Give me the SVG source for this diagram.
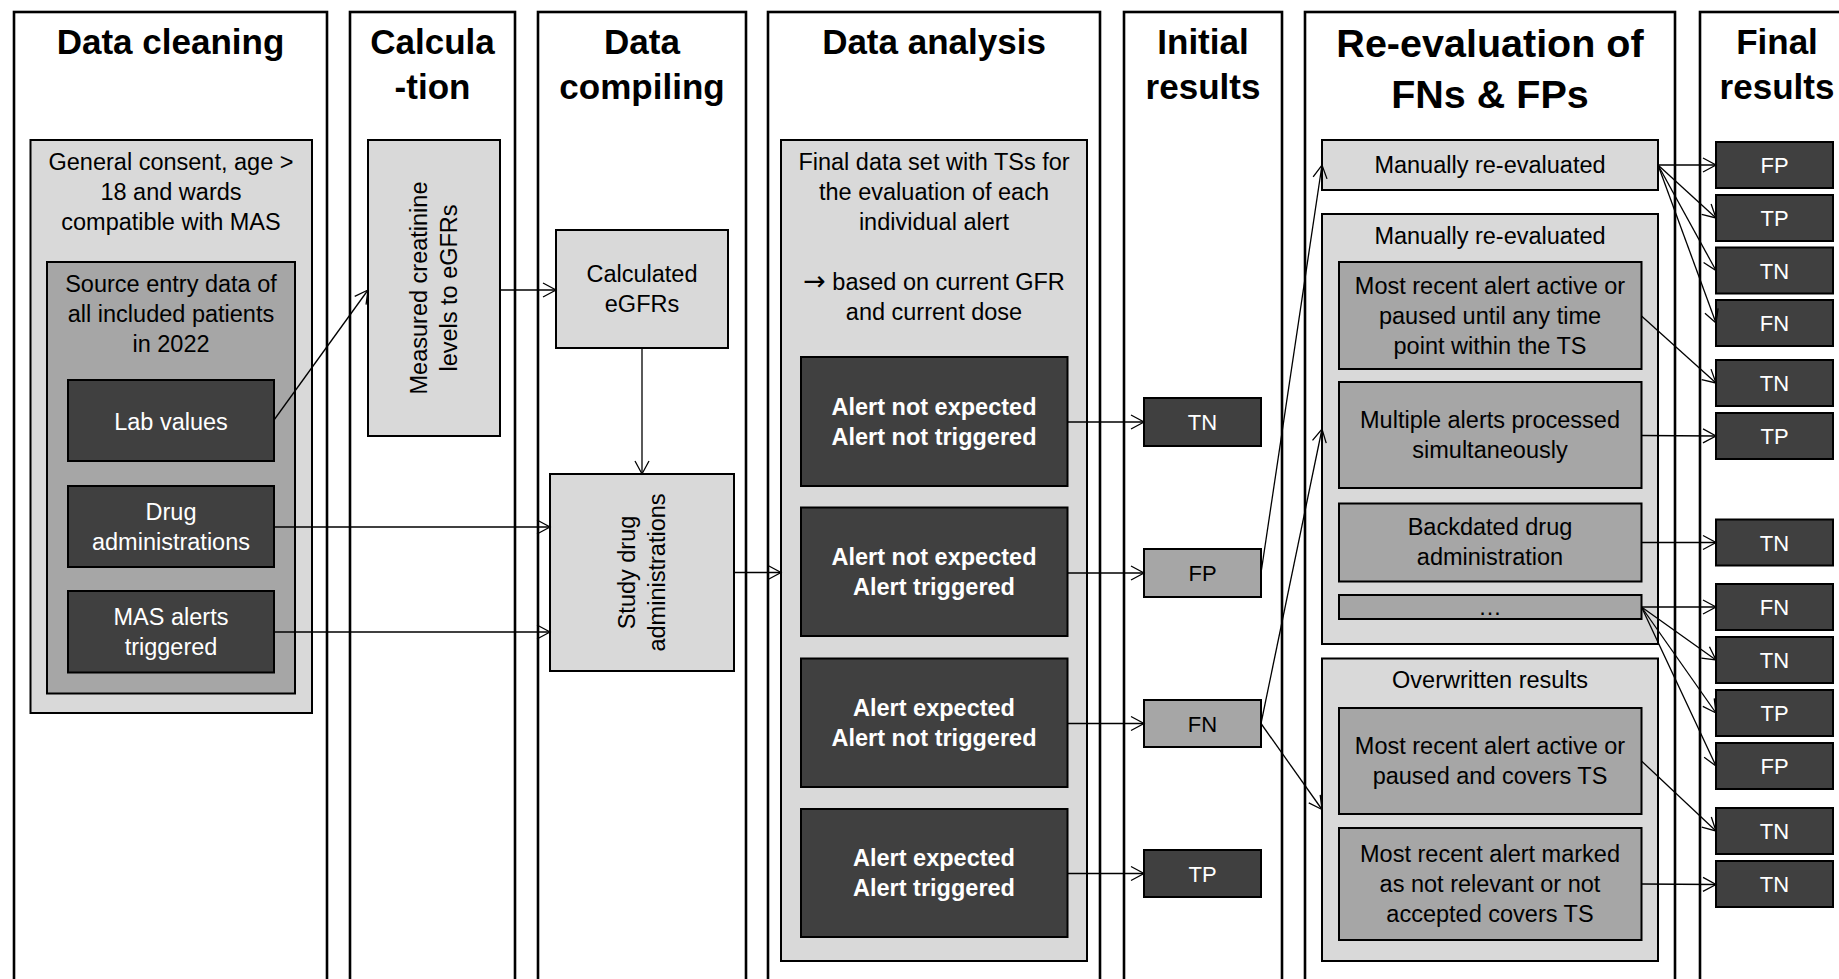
<svg xmlns="http://www.w3.org/2000/svg" width="1839" height="979" viewBox="0 0 1839 979">
<style>
.col{fill:#fff;stroke:#000;stroke-width:2.6}
.title{font-family:"Liberation Sans",Arial,sans-serif;font-weight:bold;font-size:35px;fill:#000;text-anchor:middle}
.big{font-size:39.5px}
.l{fill:#D9D9D9;stroke:#000;stroke-width:2}
.m{fill:#A6A6A6;stroke:#000;stroke-width:2}
.d{fill:#404040;stroke:#000;stroke-width:2}
.t{font-family:"Liberation Sans",Arial,sans-serif;font-size:23.5px;fill:#000;text-anchor:middle}
.w{fill:#fff}
.b{font-weight:bold}
.r{font-size:22px}
.c{fill:none;stroke:#000;stroke-width:1.3}
.arr{font-family:"DejaVu Sans",sans-serif;font-size:27px}
</style>
<defs>
<marker id="ah" markerUnits="userSpaceOnUse" markerWidth="16" markerHeight="16" refX="13" refY="7" orient="auto" overflow="visible">
<path d="M0,0 L13,7 L0,14" fill="none" stroke="#000" stroke-width="1.3"/>
</marker>
</defs>

<g id="columns">
<g id="col-cleaning"><rect class="col" x="14" y="12" width="313" height="1000"/><text class="title" x="170.5" y="53.5">Data cleaning</text></g>
<g id="col-calculation"><rect class="col" x="350" y="12" width="165" height="1000"/><text class="title" x="432.5" y="53.5">Calcula</text><text class="title" x="432.5" y="99">-tion</text></g>
<g id="col-compiling"><rect class="col" x="538" y="12" width="208" height="1000"/><text class="title" x="642" y="53.5">Data</text><text class="title" x="642" y="99">compiling</text></g>
<g id="col-analysis"><rect class="col" x="768" y="12" width="332" height="1000"/><text class="title" x="934" y="53.5">Data analysis</text></g>
<g id="col-initial"><rect class="col" x="1124" y="12" width="158" height="1000"/><text class="title" x="1203" y="53.5">Initial</text><text class="title" x="1203" y="99">results</text></g>
<g id="col-reeval"><rect class="col" x="1305" y="12" width="370" height="1000"/><text class="title big" x="1490" y="57">Re-evaluation of</text><text class="title big" x="1490" y="107.5">FNs &amp; FPs</text></g>
<g id="col-final"><rect class="col" x="1700" y="12" width="154" height="1000"/><text class="title" x="1777" y="53.5">Final</text><text class="title" x="1777" y="99">results</text></g>
</g>

<g id="consent">
<rect class="l" x="30.5" y="140" width="281.5" height="573"/>
<text class="t" x="171" y="170">General consent, age &gt;</text>
<text class="t" x="171" y="200">18 and wards</text>
<text class="t" x="171" y="230">compatible with MAS</text>
</g>
<g id="source">
<rect class="m" x="47" y="262" width="248" height="431.5"/>
<text class="t" x="171" y="292">Source entry data of</text>
<text class="t" x="171" y="322">all included patients</text>
<text class="t" x="171" y="352">in 2022</text>
</g>
<g id="lab"><rect class="d" x="68" y="380" width="206" height="81"/><text class="t w" x="171" y="430">Lab values</text></g>
<g id="drug"><rect class="d" x="68" y="486" width="206" height="81"/><text class="t w" x="171" y="520">Drug</text><text class="t w" x="171" y="550">administrations</text></g>
<g id="mas"><rect class="d" x="68" y="591" width="206" height="81.5"/><text class="t w" x="171" y="625">MAS alerts</text><text class="t w" x="171" y="655">triggered</text></g>

<g id="measured">
<rect class="l" x="368" y="140" width="132" height="296"/>
<g transform="translate(434,288) rotate(-90)"><text class="t" x="0" y="-7">Measured creatinine</text><text class="t" x="0" y="23">levels to eGFRs</text></g>
</g>

<g id="calculated"><rect class="l" x="556" y="230" width="172" height="118"/><text class="t" x="642" y="282">Calculated</text><text class="t" x="642" y="312">eGFRs</text></g>
<g id="study">
<rect class="l" x="550" y="474" width="184" height="197"/>
<g transform="translate(642,572.5) rotate(-90)"><text class="t" x="0" y="-7">Study drug</text><text class="t" x="0" y="23">administrations</text></g>
</g>

<g id="dataset">
<rect class="l" x="781" y="140" width="306" height="821"/>
<text class="t" x="934" y="170">Final data set with TSs for</text>
<text class="t" x="934" y="200">the evaluation of each</text>
<text class="t" x="934" y="230">individual alert</text>
<text class="t" x="934" y="290"><tspan class="arr">→</tspan> based on current GFR</text>
<text class="t" x="934" y="320">and current dose</text>
</g>
<g id="a1"><rect class="d" x="801" y="357" width="266.5" height="129"/><text class="t w b" x="934" y="414.5">Alert not expected</text><text class="t w b" x="934" y="444.5">Alert not triggered</text></g>
<g id="a2"><rect class="d" x="801" y="507.5" width="266.5" height="128.5"/><text class="t w b" x="934" y="564.5">Alert not expected</text><text class="t w b" x="934" y="594.5">Alert triggered</text></g>
<g id="a3"><rect class="d" x="801" y="658.5" width="266.5" height="128.5"/><text class="t w b" x="934" y="715.5">Alert expected</text><text class="t w b" x="934" y="745.5">Alert not triggered</text></g>
<g id="a4"><rect class="d" x="801" y="809" width="266.5" height="128"/><text class="t w b" x="934" y="865.5">Alert expected</text><text class="t w b" x="934" y="895.5">Alert triggered</text></g>

<g id="i-tn"><rect class="d" x="1144" y="398" width="117" height="48"/><text class="t w r" x="1202.5" y="430">TN</text></g>
<g id="i-fp"><rect class="m" x="1144" y="549" width="117" height="48"/><text class="t r" x="1202.5" y="581">FP</text></g>
<g id="i-fn"><rect class="m" x="1144" y="700" width="117" height="47"/><text class="t r" x="1202.5" y="731.5">FN</text></g>
<g id="i-tp"><rect class="d" x="1144" y="850" width="117" height="47"/><text class="t w r" x="1202.5" y="881.5">TP</text></g>

<g id="r-top"><rect class="l" x="1322" y="140" width="336" height="50"/><text class="t" x="1490" y="173">Manually re-evaluated</text></g>
<g id="r-manual">
<rect class="l" x="1322" y="214" width="336" height="430"/>
<text class="t" x="1490" y="244">Manually re-evaluated</text>
</g>
<g id="r-m1"><rect class="m" x="1339" y="262" width="302.5" height="107"/><text class="t" x="1490" y="294">Most recent alert active or</text><text class="t" x="1490" y="324">paused until any time</text><text class="t" x="1490" y="354">point within the TS</text></g>
<g id="r-m2"><rect class="m" x="1339" y="382" width="302.5" height="106"/><text class="t" x="1490" y="428">Multiple alerts processed</text><text class="t" x="1490" y="458">simultaneously</text></g>
<g id="r-m3"><rect class="m" x="1339" y="503.5" width="302.5" height="78"/><text class="t" x="1490" y="535">Backdated drug</text><text class="t" x="1490" y="565">administration</text></g>
<g id="r-m4"><rect class="m" x="1339" y="595" width="302.5" height="24"/><text class="t" x="1490" y="615">…</text></g>
<g id="r-over">
<rect class="l" x="1322" y="658.5" width="336" height="302.5"/>
<text class="t" x="1490" y="688">Overwritten results</text>
</g>
<g id="r-o1"><rect class="m" x="1339" y="708" width="302.5" height="106"/><text class="t" x="1490" y="754">Most recent alert active or</text><text class="t" x="1490" y="784">paused and covers TS</text></g>
<g id="r-o2"><rect class="m" x="1339" y="828" width="302.5" height="112"/><text class="t" x="1490" y="862">Most recent alert marked</text><text class="t" x="1490" y="892">as not relevant or not</text><text class="t" x="1490" y="922">accepted covers TS</text></g>

<g id="f1"><rect class="d" x="1716" y="142" width="117" height="46"/><text class="t w r" x="1774.5" y="173">FP</text></g>
<g id="f2"><rect class="d" x="1716" y="195" width="117" height="46"/><text class="t w r" x="1774.5" y="226">TP</text></g>
<g id="f3"><rect class="d" x="1716" y="247.5" width="117" height="46"/><text class="t w r" x="1774.5" y="278.5">TN</text></g>
<g id="f4"><rect class="d" x="1716" y="300" width="117" height="46"/><text class="t w r" x="1774.5" y="331">FN</text></g>
<g id="f5"><rect class="d" x="1716" y="360" width="117" height="46"/><text class="t w r" x="1774.5" y="391">TN</text></g>
<g id="f6"><rect class="d" x="1716" y="413" width="117" height="46"/><text class="t w r" x="1774.5" y="444">TP</text></g>
<g id="f7"><rect class="d" x="1716" y="519.5" width="117" height="46"/><text class="t w r" x="1774.5" y="550.5">TN</text></g>
<g id="f8"><rect class="d" x="1716" y="584" width="117" height="46"/><text class="t w r" x="1774.5" y="615">FN</text></g>
<g id="f9"><rect class="d" x="1716" y="637" width="117" height="46"/><text class="t w r" x="1774.5" y="668">TN</text></g>
<g id="f10"><rect class="d" x="1716" y="690" width="117" height="46"/><text class="t w r" x="1774.5" y="721">TP</text></g>
<g id="f11"><rect class="d" x="1716" y="743" width="117" height="46"/><text class="t w r" x="1774.5" y="774">FP</text></g>
<g id="f12"><rect class="d" x="1716" y="808" width="117" height="46"/><text class="t w r" x="1774.5" y="839">TN</text></g>
<g id="f13"><rect class="d" x="1716" y="861" width="117" height="46"/><text class="t w r" x="1774.5" y="892">TN</text></g>

<g id="connectors" class="c" marker-end="url(#ah)">
<line x1="274" y1="420" x2="368" y2="290"/>
<line x1="274" y1="527" x2="550" y2="527"/>
<line x1="274" y1="632" x2="550" y2="632"/>
<line x1="500" y1="290" x2="556" y2="290"/>
<line x1="642" y1="348" x2="642" y2="474"/>
<line x1="734" y1="572.5" x2="781" y2="572.5"/>
<line x1="1067.5" y1="422" x2="1144" y2="422"/>
<line x1="1067.5" y1="573" x2="1144" y2="573"/>
<line x1="1067.5" y1="723.5" x2="1144" y2="723.5"/>
<line x1="1067.5" y1="873.5" x2="1144" y2="873.5"/>
<line x1="1261" y1="573" x2="1322" y2="165"/>
<line x1="1261" y1="723.5" x2="1322" y2="429"/>
<line x1="1261" y1="723.5" x2="1322" y2="809.5"/>
<line x1="1658" y1="165" x2="1716" y2="165"/>
<line x1="1658" y1="165" x2="1716" y2="218"/>
<line x1="1658" y1="165" x2="1716" y2="270.5"/>
<line x1="1658" y1="165" x2="1716" y2="323"/>
<line x1="1641.5" y1="316" x2="1716" y2="383"/>
<line x1="1641.5" y1="435.5" x2="1716" y2="436"/>
<line x1="1641.5" y1="542.5" x2="1716" y2="542.5"/>
<line x1="1641.5" y1="607" x2="1716" y2="607"/>
<line x1="1641.5" y1="607" x2="1716" y2="660"/>
<line x1="1641.5" y1="607" x2="1716" y2="713"/>
<line x1="1641.5" y1="607" x2="1716" y2="766"/>
<line x1="1641.5" y1="761" x2="1716" y2="831"/>
<line x1="1641.5" y1="884" x2="1716" y2="884.5"/>
</g>
</svg>
